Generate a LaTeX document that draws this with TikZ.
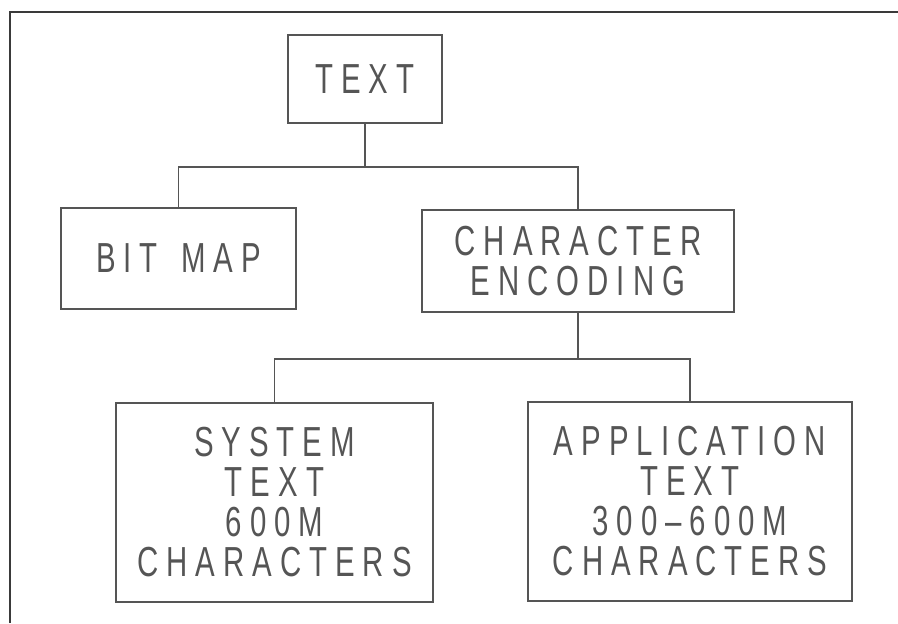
\documentclass[tikz,border=0pt]{standalone}
\usepackage{fontspec}
\usepackage{tikz}
\usetikzlibrary{positioning}
\newfontfamily\plotfont[FakeStretch=0.7,LetterSpace=19]{Liberation Sans}
\definecolor{ink}{HTML}{555555}
\definecolor{frameink}{HTML}{3A3A3A}
\newcommand{\treebox}[5]{\node[box,minimum width=#3,minimum height=#4] (#1) at (#2) {#5};}

\begin{document}
\begin{tikzpicture}[x=0.5pt,y=-0.5pt,
  box/.style={draw=ink,line width=0.6pt,rectangle,inner sep=0pt,align=center,
    text=ink,font=\plotfont\fontsize{21}{20}\selectfont},
  link/.style={draw=ink,line width=0.6pt}]
\useasboundingbox (0,0) rectangle (898,623);
\draw[frameink,line width=1.2pt] (10,623)--(10,12)--(898,12);
\treebox{text}{365,79}{77pt}{44pt}{TEXT}
\treebox{bitmap}{178.5,258.5}{117.5pt}{50.5pt}{BIT\ \,MAP}
\treebox{charenc}{578,261}{156pt}{51pt}{\baselineskip=21.5pt CHARACTER\\ENCODING}
\treebox{systext}{274.5,502.5}{158.5pt}{99.5pt}{SYSTEM\\TEXT\\600M\\CHARACTERS}
\treebox{apptext}{690,501.5}{162pt}{99.5pt}{APPLICATION\\TEXT\\300–600M\\CHARACTERS}
\coordinate (fork1) at (365,167);
\coordinate (fork2) at (578,359);
\draw[link] (text.south)--(fork1);
\draw[link] (bitmap.north) |- (fork1) -| (charenc.north);
\draw[link] (charenc.south)--(fork2);
\draw[link] (systext.north) |- (fork2) -| (apptext.north);
\end{tikzpicture}
\end{document}
